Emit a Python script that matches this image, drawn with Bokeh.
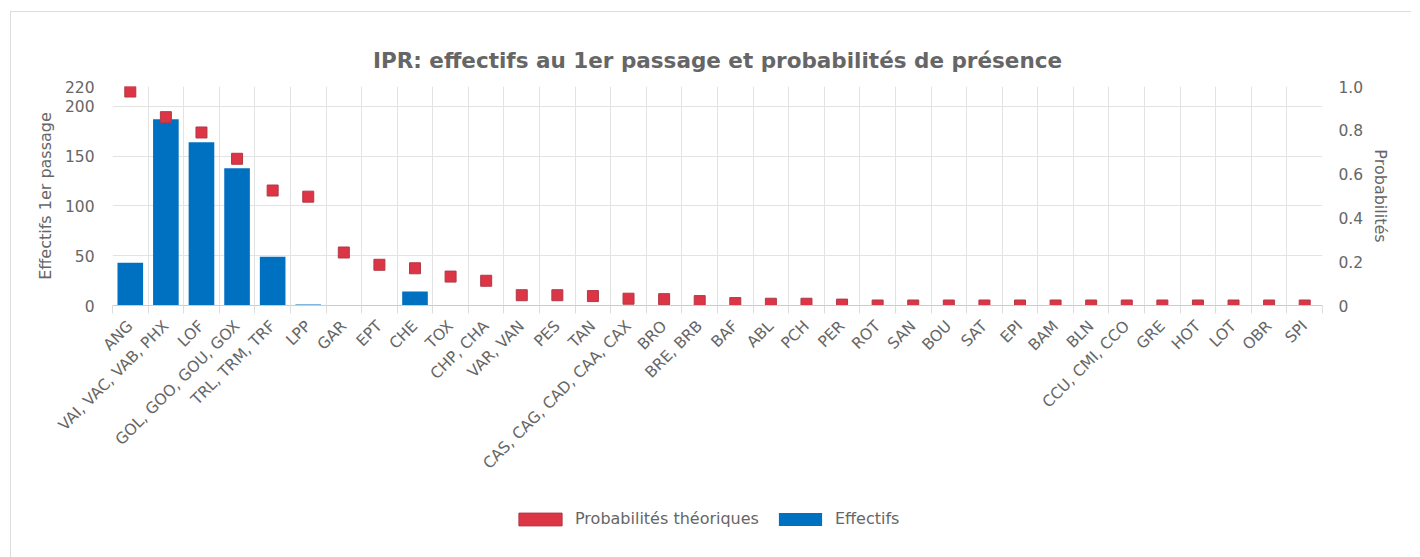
import math
from bokeh.plotting import figure
from bokeh.layouts import column
from bokeh.models import (Range1d, LinearAxis, FixedTicker, ColumnDataSource,
                          Legend, LegendItem)
from bokeh.embed import file_html
from bokeh.resources import INLINE

categories = ["ANG", "VAI, VAC, VAB, PHX", "LOF", "GOL, GOO, GOU, GOX",
              "TRL, TRM, TRF", "LPP", "GAR", "EPT", "CHE", "TOX", "CHP, CHA",
              "VAR, VAN", "PES", "TAN", "CAS, CAG, CAD, CAA, CAX", "BRO",
              "BRE, BRB", "BAF", "ABL", "PCH", "PER", "ROT", "SAN", "BOU",
              "SAT", "EPI", "BAM", "BLN", "CCU, CMI, CCO", "GRE", "HOT", "LOT",
              "OBR", "SPI"]
effectifs = [43, 187, 164, 138, 49, 1, 0, 0, 14, 0, 0,
             0, 0, 0, 0, 0, 0, 0, 0, 0, 0, 0, 0, 0,
             0, 0, 0, 0, 0, 0, 0, 0, 0, 0]
probabilites = [0.977, 0.86, 0.79, 0.67, 0.525, 0.497, 0.242, 0.186, 0.17,
                0.132, 0.113, 0.047, 0.047, 0.043, 0.031, 0.029, 0.02, 0.011,
                0.008, 0.008, 0.004, 0.0, 0.0, 0.0, 0.0, 0.0, 0.0, 0.0, 0.0,
                0.0, 0.0, 0.0, 0.0, 0.0]
left_ticks = [0, 50, 100, 150, 200, 220]
right_ticks = [0, 0.2, 0.4, 0.6, 0.8, 1.0]
right_labels = ["0", "0.2", "0.4", "0.6", "0.8", "1.0"]

FONT = "DejaVu Sans"
GREY = "#666666"
BLUE = "#0070c0"
RED = "#dc3545"
FS = "15.5px"

n = len(categories)
xs = [i + 0.5 for i in range(n)]

p = figure(frame_width=1210, frame_height=219, output_backend="svg",
           toolbar_location=None,
           x_range=Range1d(0, n), y_range=Range1d(0, 220),
           min_border_left=101, min_border_right=89, min_border_top=74,
           min_border_bottom=190)
p.outline_line_color = None
p.background_fill_color = "white"
p.border_fill_color = "white"

p.title.text = "IPR: effectifs au 1er passage et probabilités de présence"
p.title.align = "center"
p.title.text_font = FONT
p.title.text_font_size = "21.5px"
p.title.text_font_style = "bold"
p.title.text_color = GREY
p.title.standoff = 27

p.extra_y_ranges = {"prob": Range1d(0, 1)}

src = ColumnDataSource(dict(x=xs, eff=effectifs, prob=probabilites))
bars = p.vbar(x="x", top="eff", width=0.72, source=src, fill_color=BLUE,
              line_color=None)
pts = p.scatter(x="x", y="prob", source=src, y_range_name="prob", marker="square",
                size=11, fill_color=RED, line_color="#b03a48", line_width=1)

# x axis
xa = p.xaxis[0]
xa.ticker = FixedTicker(ticks=xs, minor_ticks=list(range(n + 1)))
xa.major_label_overrides = {x: c for x, c in zip(xs, categories)}
xa.major_label_orientation = math.pi / 4
xa.major_tick_line_color = None
xa.minor_tick_in = 0
xa.minor_tick_out = 8
xa.minor_tick_line_color = "#dddddd"
xa.axis_line_color = "#cccccc"
xa.major_label_text_font = FONT
xa.major_label_text_font_size = FS
xa.major_label_text_color = GREY
xa.major_label_standoff = 10

# left axis
ya = p.yaxis[0]
ya.ticker = FixedTicker(ticks=left_ticks)
ya.axis_label = "Effectifs 1er passage"
ya.axis_label_text_font = FONT
ya.axis_label_text_font_size = "16px"
ya.axis_label_text_font_style = "normal"
ya.axis_label_text_color = GREY
ya.major_label_text_font = FONT
ya.major_label_text_font_size = FS
ya.major_label_text_color = GREY
ya.axis_line_color = None
ya.major_tick_line_color = None
ya.minor_tick_line_color = None
ya.major_label_standoff = 12
ya.axis_label_standoff = 7

# right axis
ra = LinearAxis(y_range_name="prob", ticker=FixedTicker(ticks=right_ticks),
                axis_label="Probabilités")
ra.major_label_overrides = {t: l for t, l in zip(right_ticks, right_labels)}
ra.axis_label_text_font = FONT
ra.axis_label_text_font_size = "16px"
ra.axis_label_text_font_style = "normal"
ra.axis_label_text_color = GREY
ra.major_label_text_font = FONT
ra.major_label_text_font_size = FS
ra.major_label_text_color = GREY
ra.axis_line_color = None
ra.major_tick_line_color = None
ra.minor_tick_line_color = None
ra.major_label_standoff = 10
ra.axis_label_standoff = 5
p.add_layout(ra, "right")

# grids
p.xgrid.ticker = FixedTicker(ticks=list(range(n + 1)))
p.xgrid.grid_line_color = "#e3e3e3"
p.ygrid.ticker = FixedTicker(ticks=left_ticks)
p.ygrid.grid_line_color = "#e3e3e3"

# legend strip below the chart
nan = float("nan")
lf = figure(width=1400, height=62, output_backend="svg", toolbar_location=None,
            x_range=Range1d(0, 1), y_range=Range1d(0, 1),
            x_axis_location=None, y_axis_location=None, min_border=0)
lf.outline_line_color = None
lf.grid.grid_line_color = None
lf.border_fill_color = "white"
d_prob = lf.vbar(x=[nan], top=[nan], width=0.5, fill_color=RED, line_color="#b03a48")
d_eff = lf.vbar(x=[nan], top=[nan], width=0.5, fill_color=BLUE, line_color=None)
legend = Legend(items=[LegendItem(label="Probabilités théoriques", renderers=[d_prob]),
                       LegendItem(label="Effectifs", renderers=[d_eff])],
                orientation="horizontal", location=(401, 29),
                glyph_width=54, glyph_height=16, label_standoff=8, spacing=14,
                label_text_font=FONT, label_text_font_size="16px",
                label_text_color=GREY, border_line_color=None,
                background_fill_alpha=0, margin=0, padding=0)
lf.add_layout(legend, "center")

layout = column(p, lf, spacing=0)
layout.margin = (11, 0, 0, 10)
layout.styles = {"border-top": "1px solid #dddddd", "border-left": "1px solid #dddddd"}

open("out.html", "w").write(file_html(layout, INLINE))
